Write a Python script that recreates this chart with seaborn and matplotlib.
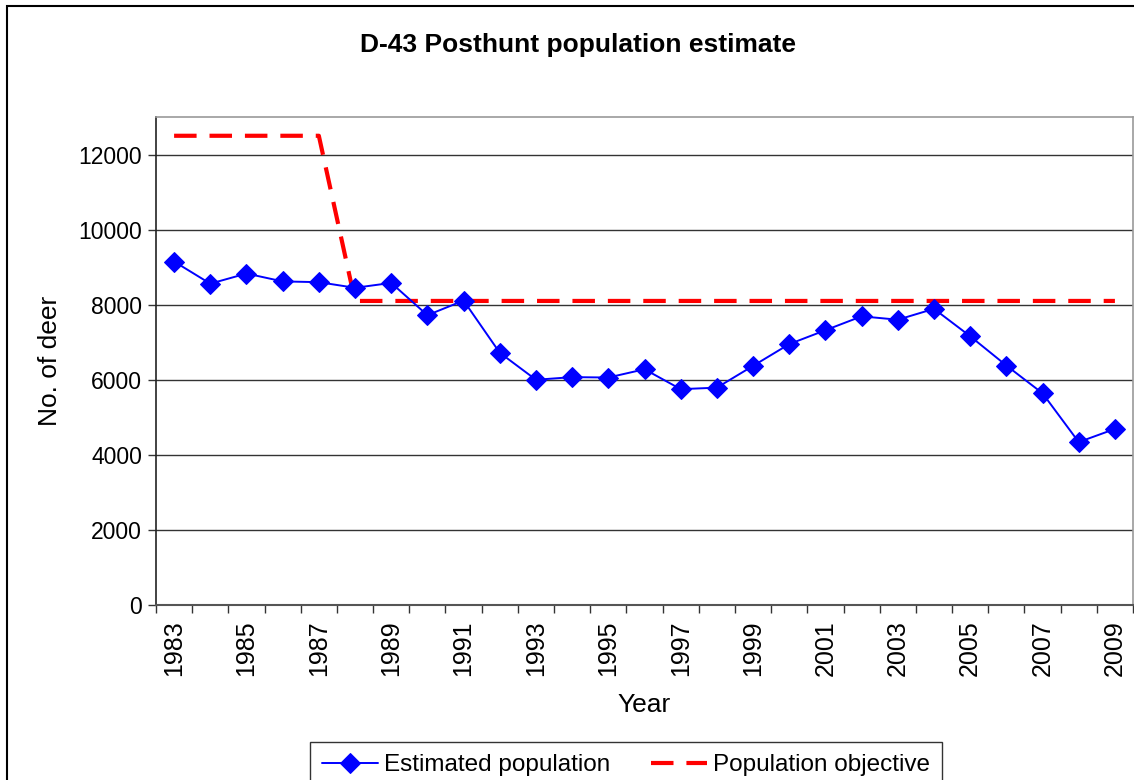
import matplotlib
matplotlib.use("Agg")
import matplotlib.pyplot as plt
from matplotlib.patches import Rectangle
import numpy as np
import pandas as pd
import seaborn as sns

years = list(range(1983, 2010))
estimated = [9150, 8560, 8830, 8620, 8600, 8450, 8580, 7720, 8110, 6720,
             6000, 6070, 6060, 6280, 5750, 5790, 6370, 6950, 7320, 7690,
             7600, 7890, 7160, 6380, 5640, 4340, 4690]
objective_years = [1983, 1984, 1985, 1986, 1987, 1988, 1989, 1990, 1991, 1992,
                   1993, 1994, 1995, 1996, 1997, 1998, 1999, 2000, 2001, 2002,
                   2003, 2004, 2005, 2006, 2007, 2008, 2009]
objective = [12500, 12500, 12500, 12500, 12500] + [8100] * 22
y_ticks = [0, 2000, 4000, 6000, 8000, 10000, 12000]

sns.set_theme(style="white", rc={"text.color": "black", "axes.labelcolor": "black",
                                 "xtick.color": "black", "ytick.color": "black"})
plt.rcParams["font.family"] = ["Liberation Sans", "DejaVu Sans"]

W, H = 1134, 780
fig = plt.figure(figsize=(W / 100, H / 100), dpi=100)
ax = fig.add_axes([156 / W, 1 - 605 / H, (1133 - 156) / W, (605 - 117) / H])

df_est = pd.DataFrame({"pos": [y - 1983 for y in years], "value": estimated})
df_obj = pd.DataFrame({"pos": [y - 1983 for y in objective_years], "value": objective})

sns.lineplot(data=df_est, x="pos", y="value", ax=ax, color="#0000FF", lw=1.4,
             marker="D", markersize=10, markeredgecolor="#0000FF",
             label="Estimated population", zorder=4)
sns.lineplot(data=df_obj, x="pos", y="value", ax=ax, color="#FF0000", lw=3,
             label="Population objective", zorder=3)
ax.get_lines()[-1].set_dashes((5.4, 3.1))

ax.set_xlim(-0.5, len(years) - 0.5)
ax.set_ylim(0, 13000)
ax.set_yticks(y_ticks)
ax.set_yticklabels([str(v) for v in y_ticks], fontsize=16.5)
ax.yaxis.grid(True, color="#333333", lw=1)
ax.set_axisbelow(True)

# labels every other year at category centres, ticks on category boundaries
label_pos = [y - 1983 for y in years if (y - 1983) % 2 == 0]
ax.set_xticks(label_pos)
ax.set_xticklabels([str(1983 + p) for p in label_pos], rotation=90, fontsize=18)
ax.set_xticks(np.arange(-0.5, len(years), 1.0), minor=True)
ax.tick_params(axis="x", which="major", length=0, pad=11)
ax.tick_params(axis="x", which="minor", length=6, width=1, color="#333333",
               direction="out", bottom=True)
ax.tick_params(axis="y", which="major", length=6, width=1, color="#333333",
               direction="out", left=True, pad=4)

ax.set_xlabel("Year", fontsize=19, labelpad=12)
ax.set_ylabel("No. of deer", fontsize=19, labelpad=12)

for side in ["top", "right"]:
    ax.spines[side].set_color("#999999")
    ax.spines[side].set_linewidth(1.2)
ax.spines["left"].set_color("#222222")
ax.spines["left"].set_linewidth(1.2)
ax.spines["bottom"].set_color("#555555")
ax.spines["bottom"].set_linewidth(1.5)

fig.text(578 / W, 1 - 45 / H, "D-43 Posthunt population estimate",
         ha="center", va="center", fontsize=19, fontweight="bold")

ax.get_legend().remove()
handles, labels = ax.get_legend_handles_labels()
leg = fig.legend(handles, labels, loc="upper center",
                 bbox_to_anchor=(626 / W, 1 - 742 / H), ncol=2, fontsize=17.5,
                 frameon=True, fancybox=False, edgecolor="#000000",
                 handlelength=2.3, handletextpad=0.25, columnspacing=1.7,
                 numpoints=1, borderpad=0.5, borderaxespad=0)
leg.get_frame().set_linewidth(1)

# outer chart frame
fig.patches.append(Rectangle((7 / W, -0.05), 1.2, 1 - 6 / H + 0.05,
                             transform=fig.transFigure, fill=False,
                             edgecolor="#000000", lw=1.5, zorder=0))

fig.savefig("out.png", dpi=100)
